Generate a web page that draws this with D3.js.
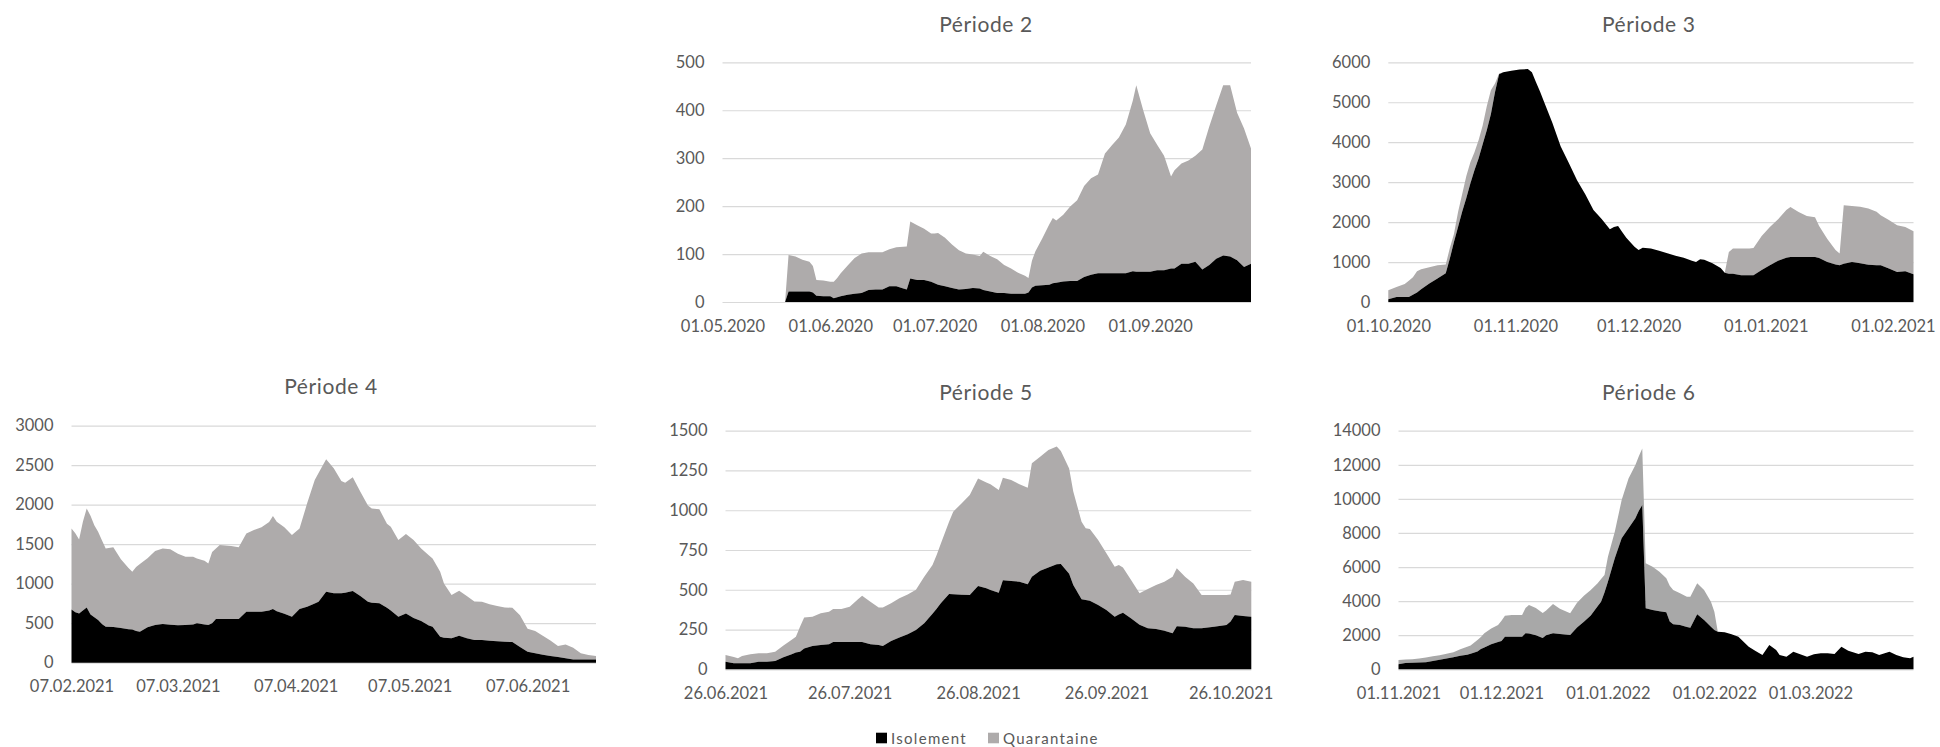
<!DOCTYPE html>
<html>
<head>
<meta charset="utf-8">
<script src="https://cdn.jsdelivr.net/npm/d3@7"></script>
<style>
  body { margin: 0; background: #ffffff; }
  svg { display: block; }
</style>
</head>
<body>
<svg id="chart" width="1940" height="747"></svg>
<script>
// ---------- Période 2 ----------
const p2Dates = ['19.05.2020','20.05.2020','22.05.2020','24.05.2020','26.05.2020','27.05.2020','28.05.2020','30.05.2020',
  '01.06.2020','02.06.2020','03.06.2020','04.06.2020','06.06.2020','08.06.2020','10.06.2020','12.06.2020','14.06.2020','16.06.2020','18.06.2020','20.06.2020','22.06.2020','23.06.2020','24.06.2020','26.06.2020','28.06.2020','30.06.2020',
  '01.07.2020','02.07.2020','04.07.2020','06.07.2020','08.07.2020','10.07.2020','12.07.2020','14.07.2020','15.07.2020','17.07.2020','19.07.2020','21.07.2020','23.07.2020','25.07.2020','27.07.2020','28.07.2020','29.07.2020','30.07.2020',
  '01.08.2020','03.08.2020','04.08.2020','05.08.2020','07.08.2020','09.08.2020','11.08.2020','13.08.2020','15.08.2020','17.08.2020','19.08.2020','21.08.2020','23.08.2020','25.08.2020','27.08.2020','28.08.2020','30.08.2020',
  '01.09.2020','03.09.2020','05.09.2020','07.09.2020','08.09.2020','10.09.2020','12.09.2020','14.09.2020','16.09.2020','18.09.2020','20.09.2020','22.09.2020','24.09.2020','26.09.2020','28.09.2020','30.09.2020'];
const p2Isolement = [0,22,22,22,22,20,13,12,
  12,8,10,12,15,17,19,25,26,26,33,33,28,26,49,46,46,42,
  39,36,33,29,26,27,29,28,25,22,19,19,17,17,17,20,30,34,
  35,36,39,40,43,44,44,52,57,60,60,60,60,60,64,63,63,
  63,66,66,70,70,80,80,84,68,77,90,97,95,87,73,80];
const p2Quarantaine = [0,76,73,66,62,55,33,33,
  30,34,40,48,61,75,82,79,78,78,77,81,87,90,119,114,107,101,
  104,108,101,91,82,74,70,68,80,74,70,58,53,44,38,30,56,72,
  98,126,136,130,139,155,168,190,201,206,250,267,283,310,356,389,337,
  289,262,239,192,205,209,215,221,250,289,320,355,357,308,289,240];
const p2XTicks = ['01.05.2020','01.06.2020','01.07.2020','01.08.2020','01.09.2020'];
const p2YTicks = [0,100,200,300,400,500];

// ---------- Période 3 ----------
const p3Dates = ['01.10.2020','03.10.2020','05.10.2020','06.10.2020','07.10.2020','08.10.2020','09.10.2020','11.10.2020','13.10.2020','15.10.2020','16.10.2020','17.10.2020','18.10.2020','19.10.2020','20.10.2020','21.10.2020','22.10.2020','23.10.2020','24.10.2020','25.10.2020','26.10.2020','27.10.2020','28.10.2020','29.10.2020','31.10.2020',
  '02.11.2020','04.11.2020','05.11.2020','06.11.2020','07.11.2020','08.11.2020','10.11.2020','12.11.2020','14.11.2020','16.11.2020','18.11.2020','20.11.2020','22.11.2020','24.11.2020','25.11.2020','26.11.2020','27.11.2020','28.11.2020','30.11.2020',
  '01.12.2020','02.12.2020','04.12.2020','06.12.2020','08.12.2020','10.12.2020','12.12.2020','14.12.2020','15.12.2020','16.12.2020','17.12.2020','19.12.2020','21.12.2020','22.12.2020','23.12.2020','24.12.2020','26.12.2020','28.12.2020','29.12.2020','31.12.2020',
  '02.01.2021','04.01.2021','06.01.2021','07.01.2021','09.01.2021','11.01.2021','13.01.2021','14.01.2021','16.01.2021','18.01.2021','19.01.2021','20.01.2021','22.01.2021','24.01.2021','26.01.2021','28.01.2021','29.01.2021','31.01.2021',
  '02.02.2021','04.02.2021','06.02.2021'];
const p3Isolement = [67,125,125,125,180,240,320,465,590,720,1086,1500,1880,2256,2600,2966,3300,3592,3950,4300,4700,5250,5700,5750,5790,
  5820,5830,5750,5500,5263,5000,4480,3900,3480,3049,2700,2300,2080,1821,1880,1905,1750,1610,1380,
  1300,1360,1340,1280,1220,1160,1110,1030,1002,1070,1060,970,850,730,710,710,668,668,668,800,
  919,1030,1110,1128,1128,1128,1128,1100,1000,940,919,960,1003,970,930,919,919,836,
  752,769,694];
const p3Quarantaine = [225,251,325,405,440,530,500,405,330,220,264,200,370,444,550,534,450,458,470,600,600,220,20,0,0,
  0,0,0,0,0,0,0,0,0,0,0,0,0,0,0,0,0,0,0,
  0,0,0,0,0,0,0,0,0,0,0,0,0,0,543,627,669,669,685,850,
  961,1040,1190,1252,1122,1027,992,800,580,360,293,1460,1397,1412,1410,1341,1254,1214,
  1170,1111,1078];
const p3XTicks = ['01.10.2020','01.11.2020','01.12.2020','01.01.2021','01.02.2021'];
const p3YTicks = [0,1000,2000,3000,4000,5000,6000];

// ---------- Période 4 ----------
const p4Dates = ['07.02.2021','08.02.2021','09.02.2021','10.02.2021','11.02.2021','12.02.2021','13.02.2021','14.02.2021','15.02.2021','16.02.2021','18.02.2021','20.02.2021','22.02.2021','23.02.2021','24.02.2021','25.02.2021','27.02.2021',
  '01.03.2021','03.03.2021','05.03.2021','07.03.2021','09.03.2021','11.03.2021','12.03.2021','14.03.2021','15.03.2021','16.03.2021','17.03.2021','18.03.2021','21.03.2021','23.03.2021','25.03.2021','27.03.2021','29.03.2021','31.03.2021',
  '01.04.2021','02.04.2021','04.04.2021','06.04.2021','08.04.2021','10.04.2021','12.04.2021','13.04.2021','15.04.2021','17.04.2021','19.04.2021','20.04.2021','22.04.2021','24.04.2021','26.04.2021','27.04.2021','29.04.2021',
  '01.05.2021','02.05.2021','04.05.2021','06.05.2021','08.05.2021','10.05.2021','12.05.2021','13.05.2021','15.05.2021','16.05.2021','18.05.2021','20.05.2021','22.05.2021','24.05.2021','26.05.2021','28.05.2021','30.05.2021',
  '01.06.2021','03.06.2021','05.06.2021','07.06.2021','09.06.2021','11.06.2021','13.06.2021','15.06.2021','17.06.2021','19.06.2021','21.06.2021','23.06.2021','25.06.2021'];
const p4Isolement = [675,640,624,660,700,610,575,540,490,456,452,440,425,420,400,392,450,
  477,489,480,473,477,485,498,485,477,500,553,553,553,553,646,646,646,660,
  679,650,620,582,679,709,750,770,899,878,878,885,907,844,770,759,751,
  696,660,582,624,565,527,470,456,329,315,308,342,308,287,287,278,270,
  265,261,200,140,120,100,85,72,55,42,42,42,42];
const p4Quarantaine = [1025,1000,936,1125,1253,1250,1165,1118,1060,991,1008,870,775,732,810,858,871,
  936,958,955,907,865,857,822,805,780,900,894,936,924,907,991,1033,1067,1120,
  1177,1135,1093,1034,1021,1308,1562,1630,1675,1582,1422,1393,1439,1320,1220,1194,1190,
  1064,1061,971,1005,988,920,890,864,821,689,548,569,536,488,485,462,447,
  435,433,400,290,280,240,195,138,176,147,78,55,42];
const p4XTicks = ['07.02.2021','07.03.2021','07.04.2021','07.05.2021','07.06.2021'];
const p4YTicks = [0,500,1000,1500,2000,2500,3000];

// ---------- Période 5 ----------
const p5Dates = ['26.06.2021','28.06.2021','29.06.2021','30.06.2021',
  '02.07.2021','04.07.2021','06.07.2021','08.07.2021','10.07.2021','12.07.2021','13.07.2021','14.07.2021','15.07.2021','17.07.2021','19.07.2021','21.07.2021','22.07.2021','24.07.2021','26.07.2021','28.07.2021','29.07.2021','31.07.2021',
  '02.08.2021','03.08.2021','05.08.2021','07.08.2021','09.08.2021','11.08.2021','13.08.2021','15.08.2021','16.08.2021','17.08.2021','19.08.2021','20.08.2021','22.08.2021','24.08.2021','26.08.2021','28.08.2021','29.08.2021','31.08.2021',
  '01.09.2021','03.09.2021','05.09.2021','07.09.2021','08.09.2021','10.09.2021','12.09.2021','14.09.2021','15.09.2021','17.09.2021','18.09.2021','20.09.2021','21.09.2021','22.09.2021','24.09.2021','26.09.2021','28.09.2021','29.09.2021','30.09.2021',
  '02.10.2021','04.10.2021','06.10.2021','08.10.2021','10.10.2021','12.10.2021','13.10.2021','15.10.2021','17.10.2021','19.10.2021','22.10.2021','25.10.2021','26.10.2021','27.10.2021','29.10.2021','31.10.2021'];
const p5Isolement = [48,38,38,38,
  38,48,48,52,75,94,105,111,130,147,153,157,172,172,172,172,172,157,
  153,147,178,200,220,247,289,350,380,415,473,472,469,467,524,509,499,482,
  560,555,551,534,582,620,640,660,662,600,530,440,436,431,404,373,331,345,356,
  320,280,258,253,243,226,270,268,258,258,268,279,300,341,335,331];
const p5Quarantaine = [42,40,31,46,
  56,53,53,59,75,91,100,157,195,184,199,205,207,207,222,268,291,268,
  235,241,237,246,251,253,293,306,339,375,455,519,574,629,676,666,664,645,
  645,635,612,608,713,717,739,740,710,663,587,488,450,451,409,356,314,310,284,
  240,198,247,277,308,356,365,314,282,209,199,188,170,210,227,220];
const p5XTicks = ['26.06.2021','26.07.2021','26.08.2021','26.09.2021','26.10.2021'];
const p5YTicks = [0,250,500,750,1000,1250,1500];

// ---------- Période 6 ----------
const p6Dates = ['01.11.2021','03.11.2021','05.11.2021','07.11.2021','09.11.2021','11.11.2021','13.11.2021','15.11.2021','17.11.2021','19.11.2021','21.11.2021','22.11.2021','24.11.2021','25.11.2021','26.11.2021','28.11.2021','30.11.2021',
  '01.12.2021','02.12.2021','04.12.2021','07.12.2021','08.12.2021','09.12.2021','11.12.2021','13.12.2021','14.12.2021','16.12.2021','18.12.2021','21.12.2021','23.12.2021','25.12.2021','27.12.2021','29.12.2021','30.12.2021','31.12.2021',
  '01.01.2022','03.01.2022','05.01.2022','07.01.2022','09.01.2022','10.01.2022','11.01.2022','12.01.2022','14.01.2022','16.01.2022','18.01.2022','19.01.2022','20.01.2022','22.01.2022','24.01.2022','25.01.2022','27.01.2022','29.01.2022','31.01.2022',
  '01.02.2022','02.02.2022','04.02.2022','06.02.2022','08.02.2022','11.02.2022','13.02.2022','15.02.2022','17.02.2022','19.02.2022','20.02.2022','22.02.2022','24.02.2022','26.02.2022','28.02.2022',
  '02.03.2022','04.03.2022','06.03.2022','08.03.2022','10.03.2022','12.03.2022','15.03.2022','17.03.2022','19.03.2022','21.03.2022','24.03.2022','26.03.2022','28.03.2022','30.03.2022','31.03.2022'];
const p6Isolement = [293,371,380,400,410,490,560,640,700,790,850,919,1050,1193,1280,1466,1600,
  1662,1916,1916,1916,2111,2100,2000,1830,2000,2111,2072,2014,2450,2796,3150,3700,3969,4500,
  5142,6510,7683,8270,8856,9300,9638,3578,3480,3400,3343,2800,2639,2600,2480,2444,3226,2893,2502,
  2300,2209,2170,2053,1916,1329,1075,841,1427,1134,841,743,1036,880,743,
  880,938,938,899,1329,1095,899,1036,997,841,1036,841,704,645,743];
const p6Quarantaine = [254,199,210,240,280,270,260,270,300,390,480,481,670,707,831,934,1000,
  1188,1232,1271,1271,1489,1673,1600,1470,1450,1721,1478,1270,1450,1525,1503,1344,1331,1033,
  1466,1564,2248,2932,3128,3200,3324,2639,2542,2328,1994,2100,2014,1857,1782,1818,1818,1760,1467,
  1082,0,0,0,0,0,0,0,0,0,0,0,0,0,0,
  0,0,0,0,0,0,0,0,0,0,0,0,0,0,0];
const p6XTicks = ['01.11.2021','01.12.2021','01.01.2022','01.02.2022','01.03.2022'];
const p6YTicks = [0,2000,4000,6000,8000,10000,12000,14000];

// ---------- Legend ----------
const seriesNames = ['Isolement', 'Quarantaine'];

// ---------- Drawing ----------
const FONT = "Lato, 'Open Sans', sans-serif";
const TEXT = '#595959';
const GRID = '#d9d9d9';
const BLACK = '#000000';
const GREY = '#aeabab';

const parse = d3.utcParse('%d.%m.%Y');
const fmt = d3.utcFormat('%d.%m.%Y');

const panels = [
  { title: 'Période 2', dates: p2Dates, iso: p2Isolement, quar: p2Quarantaine, xTicks: p2XTicks, yTicks: p2YTicks,
    start: '01.05.2020', end: '30.09.2020', box: { left: 722.5, right: 1251, top: 62.3, bottom: 302 }, tx: 986, ty: 23.3, grey: GREY },
  { title: 'Période 3', dates: p3Dates, iso: p3Isolement, quar: p3Quarantaine, xTicks: p3XTicks, yTicks: p3YTicks,
    start: '01.10.2020', end: '06.02.2021', box: { left: 1388.3, right: 1913.5, top: 62.3, bottom: 302 }, tx: 1648.7, ty: 23.3, grey: GREY },
  { title: 'Période 4', dates: p4Dates, iso: p4Isolement, quar: p4Quarantaine, xTicks: p4XTicks, yTicks: p4YTicks,
    start: '07.02.2021', end: '25.06.2021', box: { left: 71.5, right: 596, top: 425.7, bottom: 662.7 }, tx: 331, ty: 385, grey: GREY },
  { title: 'Période 5', dates: p5Dates, iso: p5Isolement, quar: p5Quarantaine, xTicks: p5XTicks, yTicks: p5YTicks,
    start: '26.06.2021', end: '31.10.2021', box: { left: 725.5, right: 1251.3, top: 430.7, bottom: 669.3 }, tx: 986, ty: 391.7, grey: GREY },
  { title: 'Période 6', dates: p6Dates, iso: p6Isolement, quar: p6Quarantaine, xTicks: p6XTicks, yTicks: p6YTicks,
    start: '01.11.2021', end: '31.03.2022', box: { left: 1398.5, right: 1913.5, top: 430.7, bottom: 669.3 }, tx: 1648.7, ty: 391.7, grey: '#a8a8a8' }
];

const svg = d3.select('#chart');
svg.append('rect').attr('width', 1940).attr('height', 747).attr('fill', '#ffffff');

panels.forEach(p => {
  const b = p.box;
  const x = d3.scaleUtc().domain([parse(p.start), parse(p.end)]).range([b.left, b.right]);
  const y = d3.scaleLinear().domain([0, d3.max(p.yTicks)]).range([b.bottom, b.top]);

  const rows = p.dates.map((d, i) => ({ date: parse(d), iso: p.iso[i], quar: p.quar[i] }));
  const layers = d3.stack().keys(['iso', 'quar'])(rows);

  const g = svg.append('g');

  // value axis with horizontal gridlines
  const gy = g.append('g')
    .attr('transform', `translate(${b.left},0)`)
    .call(d3.axisLeft(y).tickValues(p.yTicks).tickFormat(d3.format('d'))
      .tickSize(-(b.right - b.left)).tickPadding(18));
  gy.select('.domain').remove();
  gy.selectAll('.tick line').attr('stroke', GRID).attr('stroke-width', 1.2);
  gy.selectAll('.tick text').attr('fill', TEXT).attr('font-family', FONT).attr('font-size', 16.5);

  // stacked areas
  const area = d3.area()
    .x(d => x(d.data.date))
    .y0(d => y(d[0]))
    .y1(d => y(d[1]));
  g.append('path').datum(layers[1]).attr('d', area).attr('fill', p.grey);
  g.append('path').datum(layers[0]).attr('d', area).attr('fill', BLACK);

  // date axis
  const gx = g.append('g')
    .attr('transform', `translate(0,${b.bottom})`)
    .call(d3.axisBottom(x).tickValues(p.xTicks.map(parse)).tickFormat(fmt)
      .tickSize(0).tickPadding(18));
  gx.select('.domain').remove();
  gx.selectAll('.tick text').attr('fill', TEXT).attr('font-family', FONT).attr('font-size', 16.5);

  // title
  g.append('text')
    .attr('x', p.tx).attr('y', p.ty)
    .attr('text-anchor', 'middle').attr('dominant-baseline', 'central')
    .attr('fill', TEXT).attr('font-family', FONT).attr('font-size', 21).attr('letter-spacing', 0.6)
    .text(p.title);
});

// legend
const legend = svg.append('g');
const legendX = [876, 988];
const legendColors = [BLACK, GREY];
seriesNames.forEach((name, i) => {
  legend.append('rect')
    .attr('x', legendX[i]).attr('y', 732.7).attr('width', 11).attr('height', 10.6)
    .attr('fill', legendColors[i]);
  legend.append('text')
    .attr('x', legendX[i] + 15).attr('y', 738.2)
    .attr('dominant-baseline', 'central')
    .attr('fill', TEXT).attr('font-family', FONT).attr('font-size', 15).attr('letter-spacing', 1.3)
    .text(name);
});
</script>
</body>
</html>
